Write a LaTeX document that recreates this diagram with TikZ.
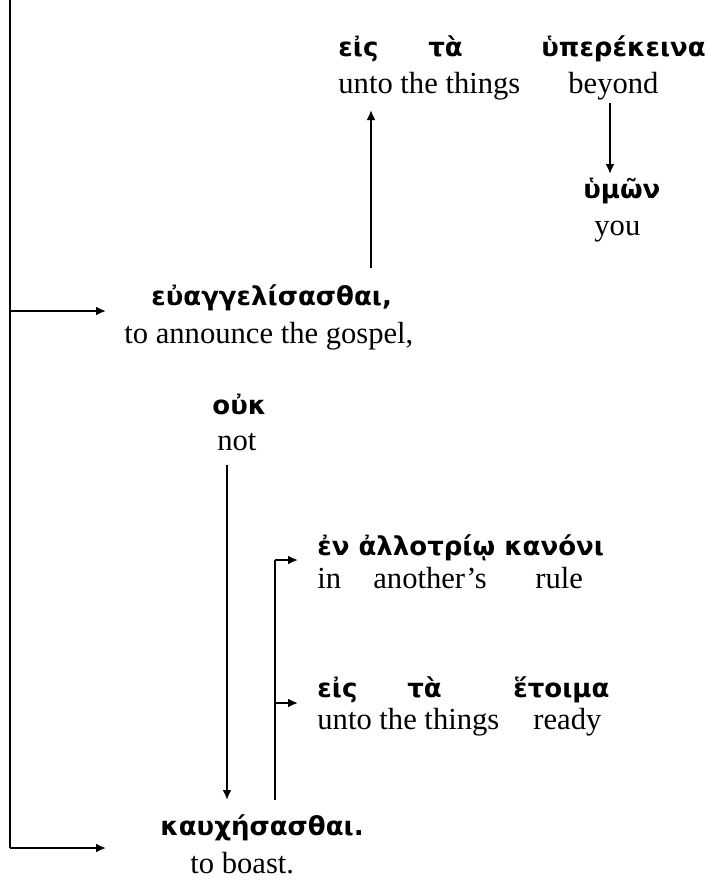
\documentclass[tikz,border=0pt]{standalone}
\usepackage{fontspec}
\setmainfont{Liberation Serif}
\newfontfamily\grk{DejaVu Sans}
\usetikzlibrary{arrows.meta}
\begin{document}
\begin{tikzpicture}[x=0.5pt,y=-0.5pt,
  gk/.style={anchor=base west,inner sep=0pt,font=\grk\bfseries\fontsize{13}{15}\selectfont},
  en/.style={anchor=base west,inner sep=0pt,font=\fontsize{15.3}{17}\selectfont},
  conn/.style={line width=1pt},
  arr/.style={conn,-{Latex[length=5pt,width=4.5pt]}}]
\useasboundingbox (0,0) rectangle (712,880);
% top line
\node[gk] (t1g) at (338,56) {εἰς};
\node[gk] (t2g) at (428,56) {τὰ};
\node[gk] (t3g) at (541,56) {ὑπερέκεινα};
\node[en] (t1e) at (338,93) {unto the things};
\node[en] (t3e) at (568,93) {beyond};
% hymon
\node[gk] (hg) at (583,198) {ὑμῶν};
\node[en] (he) at (594,235) {you};
% euangelisasthai
\node[gk] (eg) at (151,305) {εὐαγγελίσασθαι,};
\node[en] (ee) at (124,343) {to announce the gospel,};
% ouk
\node[gk] (og) at (212,414) {οὐκ};
\node[en] (oe) at (217,450) {not};
% en allotrio kanoni
\node[gk] (ag) at (317,555) {ἐν ἀλλοτρίῳ κανόνι};
\node[en] (a1e) at (317,588) {in};
\node[en] (a2e) at (373,588) {another’s};
\node[en] (a3e) at (535,588) {rule};
% eis ta hetoima
\node[gk] (r1g) at (317,697) {εἰς};
\node[gk] (r2g) at (407,697) {τὰ};
\node[gk] (r3g) at (513,697) {ἕτοιμα};
\node[en] (r1e) at (317,729) {unto the things};
\node[en] (r3e) at (533,729) {ready};
% kauchesasthai
\node[gk] (kg) at (160,835) {καυχήσασθαι.};
\node[en] (ke) at (190,873) {to boast.};
% connector points
\coordinate (ltop) at (10,0);
\coordinate (lmid) at (10,311);
\coordinate (lbot) at (10,848);
\coordinate (emid) at (106,311);
\coordinate (kmid) at (106,848);
\coordinate (eup) at (371,268);
\coordinate (ttip) at (371,110);
\coordinate (bfrom) at (610,103);
\coordinate (htip) at (610,174);
\coordinate (ofrom) at (227,465);
\coordinate (otip) at (227,800);
\coordinate (kup) at (275,800);
\coordinate (abr) at (275,560);
\coordinate (rbr) at (275,703);
\coordinate (atip) at (298,560);
\coordinate (rtip) at (298,703);
% connectors
\draw[conn] (ltop) -- (lbot);
\draw[arr] (lmid) -- (emid);
\draw[arr] (lbot) -- (kmid);
\draw[arr] (eup) -- (ttip);
\draw[arr] (bfrom) -- (htip);
\draw[arr] (ofrom) -- (otip);
\draw[conn] (kup) -- (abr);
\draw[arr] (abr) -- (atip);
\draw[arr] (rbr) -- (rtip);
\end{tikzpicture}
\end{document}
